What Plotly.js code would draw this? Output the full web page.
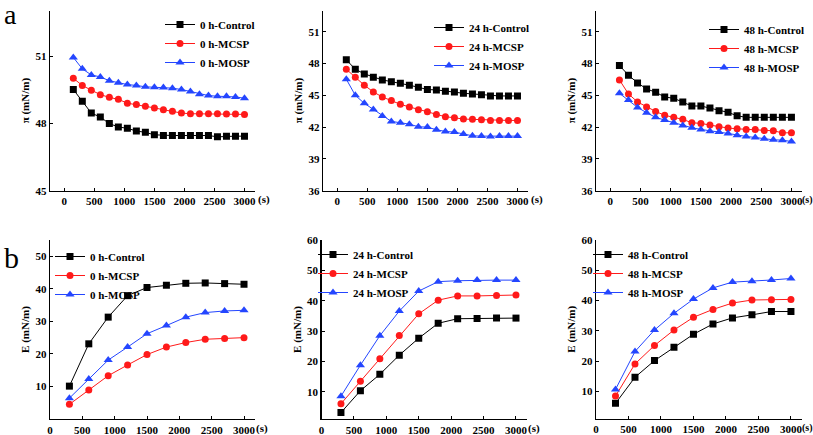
<!DOCTYPE html>
<html>
<head>
<meta charset="utf-8">
<script src="https://cdn.plot.ly/plotly-3.0.1.min.js"></script>
<style>html,body{margin:0;padding:0;background:#fff;}#chart{width:813px;height:435px;}</style>
</head>
<body>
<div id="chart"></div>
<script>
// ---------- data ----------
const timeA = [150,300,450,600,750,900,1050,1200,1350,1500,1650,1800,1950,2100,2250,2400,2550,2700,2850,3000];
const timeB = [300,600,900,1200,1500,1800,2100,2400,2700,3000];

const pi0Control = [49.51,48.99,48.46,48.28,47.99,47.84,47.78,47.66,47.60,47.49,47.46,47.46,47.46,47.46,47.46,47.46,47.40,47.43,47.43,47.43];
const pi0MCSP    = [50.01,49.69,49.48,49.28,49.16,49.07,48.90,48.84,48.76,48.69,48.61,48.54,48.46,48.43,48.43,48.43,48.43,48.42,48.42,48.40];
const pi0MOSP    = [50.94,50.43,50.16,50.07,49.90,49.81,49.73,49.69,49.63,49.61,49.60,49.57,49.51,49.42,49.30,49.24,49.21,49.21,49.18,49.12];

const pi24Control = [48.35,47.46,47.02,46.71,46.45,46.29,46.14,45.95,45.76,45.54,45.51,45.38,45.32,45.19,45.13,45.06,44.94,44.94,44.94,44.94];
const pi24MCSP    = [47.46,46.71,45.95,45.32,44.84,44.50,44.15,43.90,43.64,43.45,43.20,42.98,42.88,42.76,42.73,42.70,42.63,42.63,42.63,42.63];
const pi24MOSP    = [46.52,45.00,44.24,43.67,43.04,42.54,42.41,42.28,42.03,42.00,41.75,41.59,41.53,41.34,41.18,41.15,41.12,41.15,41.15,41.15];

const pi48Control = [47.81,46.90,46.17,45.60,45.29,44.84,44.72,44.37,43.99,43.99,43.80,43.55,43.39,43.07,42.92,42.92,42.92,42.92,42.92,42.92];
const pi48MCSP    = [46.45,45.13,44.37,43.90,43.48,43.11,42.92,42.73,42.41,42.35,42.19,42.03,41.91,41.84,41.78,41.78,41.68,41.65,41.46,41.46];
const pi48MOSP    = [45.19,44.56,43.86,43.36,42.92,42.66,42.41,42.16,41.94,41.78,41.62,41.53,41.40,41.24,41.12,41.02,40.90,40.80,40.77,40.64];

const e0Control = [10.1,23.1,31.3,37.9,40.4,41.1,41.7,41.8,41.6,41.4];
const e0MCSP    = [4.5,8.9,13.3,16.6,19.8,22.1,23.5,24.5,24.7,25.0];
const e0MOSP    = [6.4,12.3,18.1,22.1,26.2,28.7,31.3,32.7,33.2,33.4];

const e24Control = [3.2,10.4,15.8,22.1,27.7,32.6,34.1,34.2,34.3,34.3];
const e24MCSP    = [6.1,13.5,20.9,28.6,35.7,40.2,41.6,41.6,41.7,41.9];
const e24MOSP    = [8.6,18.8,28.5,36.6,43.2,46.3,46.6,46.8,46.8,46.8];

const e48Control = [6.1,14.7,20.2,24.6,28.9,32.3,34.3,35.3,36.4,36.4];
const e48MCSP    = [8.5,19.1,25.2,30.3,34.5,37.1,39.2,40.2,40.3,40.4];
const e48MOSP    = [10.7,23.2,30.3,35.8,40.5,44.2,46.1,46.4,46.8,47.3];

const groups = ['0 h','24 h','48 h'];
const seriesNames = ['Control','MCSP','MOSP'];
const xTicks = [0,500,1000,1500,2000,2500,3000];

// ---------- style ----------
const W = 813, H = 435;
const colors = ['#000000','#ff1a1a','#2446ff'];
const symbols = ['square','circle','triangle-up'];
const msizes = [7,7,8];
const FONT = 'Liberation Serif, Times New Roman, serif';

const piData = [[pi0Control,pi0MCSP,pi0MOSP],[pi24Control,pi24MCSP,pi24MOSP],[pi48Control,pi48MCSP,pi48MOSP]];
const eData  = [[e0Control,e0MCSP,e0MOSP],[e24Control,e24MCSP,e24MOSP],[e48Control,e48MCSP,e48MOSP]];

// panel pixel boxes [left,right,top,bottom]
const boxes = [
  [50,255,10.5,190.7],[323,528,10.5,190.7],[596,802,10.5,190.7],
  [50,255,240,419],[321.5,527,240,419],[596,802,240,418.5]
];
const legendTextX = [200,469,744,90,353,628];
const legendTopY  = [24,27,29,256,254,254];

const traces = [];
const layout = {
  width: W, height: H,
  margin: {l:0,r:0,t:0,b:0},
  paper_bgcolor: '#fff', plot_bgcolor: 'rgba(0,0,0,0)',
  font: {family: FONT, size: 11, color: '#000', weight: 'bold'},
  showlegend: true,
  annotations: [],
};

function axisCommon(){
  return {
    showline: true, linecolor: '#000', linewidth: 1.3,
    showgrid: false, zeroline: false,
    ticks: 'inside', ticklen: 3, tickwidth: 1, tickcolor: '#000',
    tickfont: {family: FONT, size: 11, color: '#000', weight: 'bold'},
    fixedrange: true,
  };
}

for (let p = 0; p < 6; p++) {
  const idx = p + 1;
  const xa = 'xaxis' + (idx === 1 ? '' : idx);
  const ya = 'yaxis' + (idx === 1 ? '' : idx);
  const xr = 'x' + (idx === 1 ? '' : idx);
  const yr = 'y' + (idx === 1 ? '' : idx);
  const lg = 'legend' + (idx === 1 ? '' : idx);
  const b = boxes[p];
  const top = p < 3;
  const g = p % 3;
  const data = top ? piData[g] : eData[g];
  const xs = top ? timeA : timeB;

  for (let s = 0; s < 3; s++) {
    traces.push({
      type: 'scatter', mode: 'lines+markers',
      x: xs, y: data[s],
      name: groups[g] + '-' + seriesNames[s],
      xaxis: xr, yaxis: yr, legend: lg,
      line: {color: colors[s], width: 1},
      marker: {symbol: symbols[s], size: msizes[s], color: colors[s]},
    });
  }

  const xaxis = Object.assign(axisCommon(), {
    domain: [b[0]/W, b[1]/W],
    anchor: yr,
    tickvals: xTicks,
    range: top ? [-238, 3175] : [0, 3170],
  });
  let yaxis = Object.assign(axisCommon(), {
    domain: [1 - b[3]/H, 1 - b[2]/H],
    anchor: xr,
    title: {text: top ? 'π (mN/m)' : 'E (mN/m)', font: {family: FONT, size: 11, weight: 'bold'}, standoff: 3},
  });
  if (top) {
    if (g === 0) { yaxis.range = [45, 53.03]; yaxis.tickvals = [45,48,51]; }
    else { yaxis.range = [36, 53]; yaxis.tickvals = [36,39,42,45,48,51]; }
  } else {
    if (g === 0) { yaxis.range = [0, 55]; yaxis.tickvals = [10,20,30,40,50]; }
    else { yaxis.range = [1.1, 60]; yaxis.tickvals = [10,20,30,40,50,60]; }
  }
  layout[xa] = xaxis;
  layout[ya] = yaxis;

  layout[lg] = {
    x: (legendTextX[p] - 40) / W, xanchor: 'left',
    y: 1 - (legendTopY[p] - 14) / H, yanchor: 'top',
    bgcolor: 'rgba(0,0,0,0)', borderwidth: 0,
    font: {family: FONT, size: 11, color: '#000', weight: 'bold'},
    tracegroupgap: 0,
  };

  // "(s)" unit label after 3000
  const edge = (g === 2);
  layout.annotations.push({
    xref: xr, yref: 'paper', x: 3000, xanchor: 'left', xshift: edge ? 9 : (top ? 12 : 10),
    y: 1 - (b[3] + 9) / H, yanchor: 'middle',
    text: '(s)', showarrow: false,
    font: {family: FONT, size: edge ? 10 : 11, color: '#000', weight: 'bold'},
  });
}

// panel letters
layout.annotations.push({xref:'paper', yref:'paper', x: 2/W, y: 1 - 15/H, xanchor:'left', yanchor:'middle',
  text:'a', showarrow:false, font:{family: FONT, size: 28, color:'#000', weight:'normal'}});
layout.annotations.push({xref:'paper', yref:'paper', x: 2/W, y: 1 - 257/H, xanchor:'left', yanchor:'middle',
  text:'b', showarrow:false, font:{family: FONT, size: 30, color:'#000', weight:'normal'}});

Plotly.newPlot('chart', traces, layout, {displayModeBar: false, staticPlot: true});
</script>
</body>
</html>
